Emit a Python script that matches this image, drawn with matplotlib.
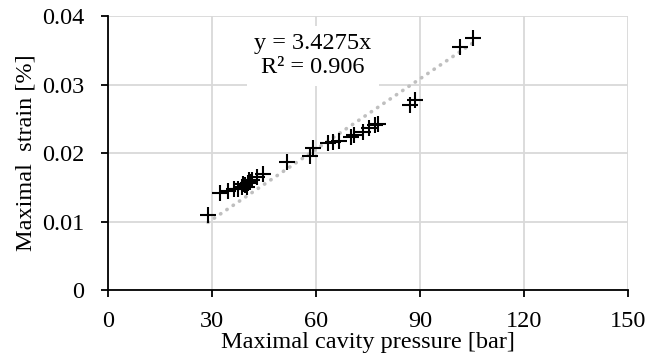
import matplotlib
matplotlib.use("Agg")
import numpy as np
import matplotlib.pyplot as plt

# data
pressure = [28.8, 32.3, 34.7, 36.4, 37.4, 38.5, 39.0, 39.5, 40.0, 40.3, 40.7, 41.0, 41.5,
            42.9, 44.8, 51.5, 58.3, 59.2, 63.5, 65.0, 66.7, 70.0, 70.9, 73.6, 75.4,
            77.0, 78.0, 87.1, 88.5, 101.5, 105.2]
strain = [0.0110, 0.0141, 0.0145, 0.0147, 0.0148, 0.0151, 0.0155, 0.0153, 0.0150, 0.0156,
          0.0161, 0.0158, 0.0160, 0.0165, 0.0170, 0.0187, 0.0196, 0.0208, 0.0214, 0.0216,
          0.0217, 0.0224, 0.0226, 0.0231, 0.0236, 0.0241, 0.0243, 0.0270, 0.0277,
          0.0355, 0.0368]
slope = 3.4275e-4  # trendline y = 3.4275x (x in bar, strain in %*1e-4)
x_ticks = [0, 30, 60, 90, 120, 150]
y_ticks = [0, 0.01, 0.02, 0.03, 0.04]
y_labels = ["0", "0.01", "0.02", "0.03", "0.04"]

plt.rcParams['font.family'] = ['Liberation Serif', 'DejaVu Serif']
FS = 17.5

fig = plt.figure(figsize=(6.48, 3.58), dpi=100)
ax = fig.add_axes([0.167, 0.19, 0.802, 0.765])

ax.grid(True, color='#d9d9d9', linewidth=1.3, zorder=0)
ax.set_axisbelow(True)

# trendline over the data range
xt = np.array([min(pressure), max(pressure)])
ax.plot(xt, slope * xt, color='#bfbfbf', linestyle=(0, (0.1, 2.0)), linewidth=2.6,
        dash_capstyle='round', zorder=2)

ax.plot(pressure, strain, linestyle='none', marker='+', markersize=11,
        markeredgewidth=1.5, color='black', zorder=3)

ax.set_xlim(0, 150)
ax.set_ylim(0, 0.04)
ax.set_xticks(x_ticks)
ax.set_yticks(y_ticks)
ax.set_yticklabels(y_labels)

for s in ['top', 'right']:
    ax.spines[s].set_visible(False)
for s in ['left', 'bottom']:
    ax.spines[s].set_linewidth(1.3)
ax.tick_params(axis='both', direction='out', length=5, width=1.3, labelsize=FS)
ax.tick_params(axis='x', pad=10)
ax.tick_params(axis='y', pad=12)

ax.set_xlabel('Maximal cavity pressure [bar]', fontsize=FS, labelpad=0)
ax.set_ylabel('Maximal  strain [%]', fontsize=FS, labelpad=4)

# equation label, white box hides the grid behind it
ax.text(59, 0.0342, 'y = 3.4275x\nR² = 0.906', fontsize=FS, ha='center', va='center',
        linespacing=1.2, zorder=4,
        bbox=dict(boxstyle='square,pad=0.3', facecolor='white', edgecolor='none'))

fig.savefig('out.png', dpi=100)
